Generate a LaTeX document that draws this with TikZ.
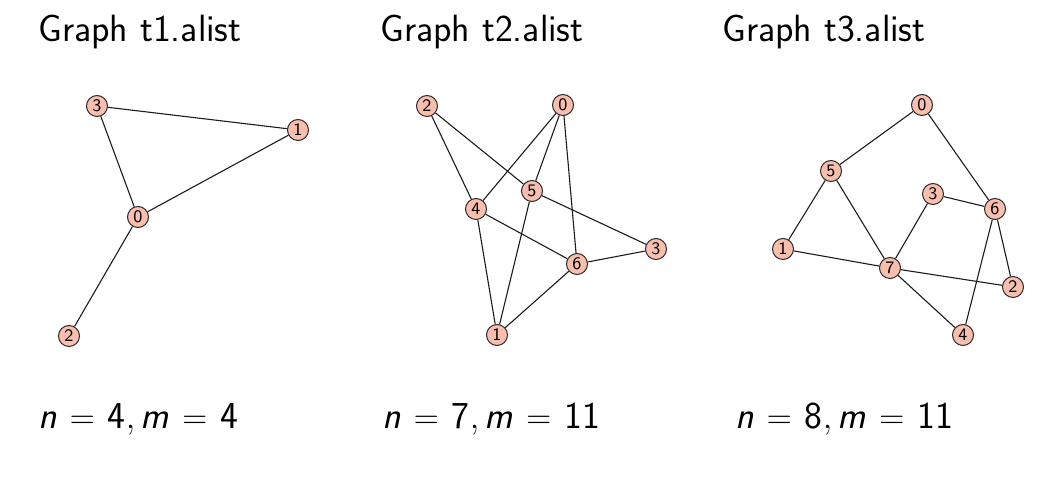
\documentclass[tikz,border=0pt]{standalone}
\usepackage{amsmath}
\usepackage{tikz}
\definecolor{VertexFill}{HTML}{F9BFAE}
\definecolor{VertexLine}{HTML}{2A2A2A}
\definecolor{EdgeLine}{HTML}{1C1C1C}
\tikzset{
  vertex/.style={circle,draw=VertexLine,fill=VertexFill,line width=0.5pt,
    minimum size=10.5pt,inner sep=0pt,font=\sffamily\fontsize{8.8}{9}\selectfont},
  edge/.style={EdgeLine,line width=0.55pt},
  heading/.style={anchor=base west,inner sep=0pt,font=\sffamily\fontsize{19}{22}\selectfont}
}
\newcommand{\sfvar}[1]{\textsf{\textit{#1}}}
\newcommand{\sizeline}[2]{$\thickmuskip=6.8mu\relax
  \sfvar{n} = \textsf{#1}, \sfvar{m} = \textsf{#2}$}

\begin{document}
\begin{tikzpicture}[x=0.5pt,y=-0.5pt]
  \useasboundingbox (0,0) rectangle (1057,480);
  % titles
  \node[heading] (title1) at (38,42) {Graph t1.alist};
  \node[heading] (title2) at (380,42) {Graph t2.alist};
  \node[heading] (title3) at (722,42) {Graph t3.alist};
  % graph t1
  \node[vertex] (a0) at (138,217) {0};
  \node[vertex] (a1) at (298,130) {1};
  \node[vertex] (a2) at (69,336) {2};
  \node[vertex] (a3) at (97,106) {3};
  \foreach \u/\v in {3/1,3/0,0/1,0/2}
    \draw[edge] (a\u) -- (a\v);
  % graph t2
  \node[vertex] (b0) at (563,105) {0};
  \node[vertex] (b1) at (497,335) {1};
  \node[vertex] (b2) at (427,106) {2};
  \node[vertex] (b3) at (656,249) {3};
  \node[vertex] (b4) at (476,209) {4};
  \node[vertex] (b5) at (532,191) {5};
  \node[vertex] (b6) at (577,264) {6};
  \foreach \u/\v in {2/4,2/5,0/4,0/5,0/6,5/1,5/3,4/6,4/1,6/3,6/1}
    \draw[edge] (b\u) -- (b\v);
  % graph t3
  \node[vertex] (c0) at (922,105) {0};
  \node[vertex] (c1) at (783,249) {1};
  \node[vertex] (c2) at (1013,287) {2};
  \node[vertex] (c3) at (933,194) {3};
  \node[vertex] (c4) at (963,335) {4};
  \node[vertex] (c5) at (831,171) {5};
  \node[vertex] (c6) at (995,209) {6};
  \node[vertex] (c7) at (890,268) {7};
  \foreach \u/\v in {0/5,0/6,5/1,5/7,3/7,3/6,6/4,6/2,1/7,7/2,7/4}
    \draw[edge] (c\u) -- (c\v);
  % sizes
  \node[heading] (count1) at (38,429) {\sizeline{4}{4}};
  \node[heading] (count2) at (382,429) {\sizeline{7}{11}};
  \node[heading] (count3) at (735,429) {\sizeline{8}{11}};
\end{tikzpicture}
\end{document}
